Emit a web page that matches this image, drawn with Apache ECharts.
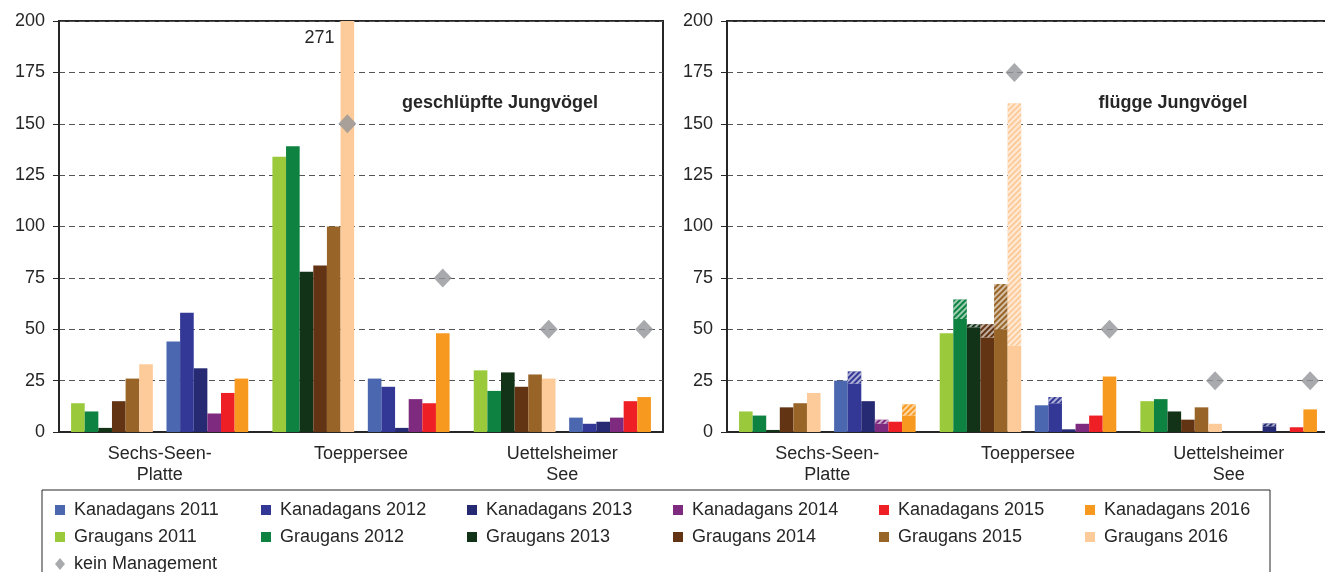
<!DOCTYPE html>
<html>
<head>
<meta charset="utf-8">
<script src="https://cdn.jsdelivr.net/npm/echarts@6/dist/echarts.min.js"></script>
<style>
html, body { margin: 0; padding: 0; background: #fff; }
#chart { width: 1325px; height: 572px; }
</style>
</head>
<body>
<div id="chart"></div>
<script>
var locations = ['Sechs-Seen-\nPlatte', 'Toeppersee', 'Uettelsheimer\nSee'];
var years = ['2011', '2012', '2013', '2014', '2015', '2016'];

var grauColors = ['#9aca3c', '#0e8240', '#133319', '#633413', '#986428', '#fdcb9a'];
var kanaColors = ['#4a67b0', '#333896', '#262a73', '#7e2a7e', '#ee2026', '#f7991f'];

// geschlüpfte Jungvögel - one row per year, one value per location
var grauGeschluepft = [
	[14, 134, 30],
	[10, 139, 20],
	[2, 78, 29],
	[15, 81, 22],
	[26, 100, 28],
	[33, 271, 26]
];
var kanaGeschluepft = [
	[44, 26, 7],
	[58, 22, 4],
	[31, 2, 5],
	[9, 16, 7],
	[19, 14, 15],
	[26, 48, 17]
];
var keinMgmtGeschluepftGrau = ['-', 150, 50];
var keinMgmtGeschluepftKana = ['-', 75, 50];

// flügge Jungvögel - solid part and the hatched part on top of it
var grauFluegge = [
	[10, 48, 15],
	[8, 55, 16],
	[1, 51, 10],
	[12, 46, 6],
	[14, 50, 12],
	[19, 42, 4]
];
var grauFlueggeSchraffur = [
	[0, 0, 0],
	[0, 9.5, 0],
	[0, 1.5, 0],
	[0, 6.5, 0],
	[0, 22, 0],
	[0, 118, 0]
];
var kanaFluegge = [
	[25, 13, 0],
	[23.5, 14, 0],
	[15, 1.3, 2.8],
	[4, 4, 0],
	[5, 8, 2.3],
	[8, 27, 11]
];
var kanaFlueggeSchraffur = [
	[0, 0, 0],
	[6, 3, 0],
	[0, 0, 1.4],
	[2, 0, 0],
	[0, 0, 0],
	[5.5, 0, 0]
];
var keinMgmtFlueggeGrau = ['-', 175, 25];
var keinMgmtFlueggeKana = ['-', 50, 25];

var FONT = 'Liberation Sans, Arial, sans-serif';
var TXT = '#262626';
var catGap = 0.12;

var hatch = {
	symbol: 'rect',
	symbolSize: 1,
	dashArrayX: [1, 0],
	dashArrayY: [2, 2],
	rotation: -Math.PI / 4,
	color: 'rgba(255,255,255,0.6)'
};

function barData(values) {
	return values.map(function (v) {
		if (v > 200) {
			return {
				value: v,
				label: {
					show: true, position: [-6, 17], align: 'right', verticalAlign: 'middle',
					formatter: '{c}', fontSize: 18, fontFamily: FONT, color: TXT
				}
			};
		}
		return v;
	});
}

function panelSeries(idx, catWidth, grau, grauHatch, kana, kanaHatch, mgmtGrau, mgmtKana) {
	var list = [];
	var slot = catWidth * (1 - catGap) / 13;
	function addBars(prefix, key, colors, solid, hatched) {
		for (var i = 0; i < 6; i++) {
			var stack = 'p' + idx + key + i;
			list.push({
				name: prefix + ' ' + years[i], type: 'bar', stack: stack,
				xAxisIndex: idx, yAxisIndex: idx,
				barGap: '0%', barCategoryGap: (catGap * 100) + '%',
				itemStyle: { color: colors[i] },
				data: barData(solid[i])
			});
			if (hatched) {
				list.push({
					name: prefix + ' ' + years[i], type: 'bar', stack: stack,
					xAxisIndex: idx, yAxisIndex: idx,
					barGap: '0%', barCategoryGap: (catGap * 100) + '%',
					itemStyle: { color: colors[i], decal: hatch },
					data: hatched[i]
				});
			}
		}
	}
	addBars('Graugans', 'g', grauColors, grau, grauHatch);
	// empty slot between the two goose clusters
	list.push({
		type: 'bar', stack: 'p' + idx + 'gap', xAxisIndex: idx, yAxisIndex: idx,
		barGap: '0%', barCategoryGap: (catGap * 100) + '%',
		data: ['-', '-', '-']
	});
	addBars('Kanadagans', 'k', kanaColors, kana, kanaHatch);

	[[mgmtGrau, -slot], [mgmtKana, 6 * slot]].forEach(function (m) {
		list.push({
			name: 'kein Management', type: 'scatter', xAxisIndex: idx, yAxisIndex: idx,
			symbol: 'diamond', symbolSize: [18, 19], symbolOffset: [m[1], 0],
			itemStyle: { color: '#939598' }, z: 5,
			data: m[0]
		});
	});
	return list;
}

var grids = [
	{ left: 59, top: 21, width: 604, height: 411 },
	{ left: 727, top: 21, width: 602, height: 411 }
];

function xAxisFor(i) {
	return {
		type: 'category', gridIndex: i, data: locations,
		axisTick: { show: false },
		axisLine: { lineStyle: { color: TXT, width: 2 } },
		axisLabel: { interval: 0, fontSize: 18, lineHeight: 21, margin: 12, color: TXT, fontFamily: FONT }
	};
}
function yAxisFor(i) {
	return {
		type: 'value', gridIndex: i, min: 0, max: 200, interval: 25,
		axisLine: { show: true, lineStyle: { color: TXT, width: 2 } },
		axisTick: { show: true, length: 6, lineStyle: { color: TXT } },
		axisLabel: { fontSize: 18, margin: 14, color: TXT, fontFamily: FONT },
		splitLine: { lineStyle: { type: [6, 4], color: '#555', width: 1 } }
	};
}

var legendText = { fontSize: 18, lineHeight: 18, color: TXT, fontFamily: FONT, padding: [0, 0, 0, 4] };
var legends = years.map(function (y, c) {
	return {
		orient: 'vertical', left: 50 + c * 206, top: 496,
		itemWidth: 10, itemHeight: 10, itemGap: 9,
		textStyle: legendText,
		data: [
			{ name: 'Kanadagans ' + y, icon: 'rect' },
			{ name: 'Graugans ' + y, icon: 'rect' }
		]
	};
});
legends.push({
	orient: 'vertical', left: 50, top: 550,
	itemWidth: 10, itemHeight: 12, itemGap: 9,
	textStyle: legendText,
	data: [{ name: 'kein Management', icon: 'diamond' }]
});

var chart = echarts.init(document.getElementById('chart'));
chart.setOption({
	animation: false,
	grid: grids.map(function (g) {
		return Object.assign({ show: true, borderColor: TXT, borderWidth: 2, outerBoundsMode: 'none', containLabel: false }, g);
	}),
	xAxis: [xAxisFor(0), xAxisFor(1)],
	yAxis: [yAxisFor(0), yAxisFor(1)],
	legend: legends,
	graphic: [
		{ type: 'text', x: 500, y: 103, style: { text: 'geschlüpfte Jungvögel', fontSize: 18, fontWeight: 'bold', fontFamily: FONT, fill: TXT, align: 'center', verticalAlign: 'middle' } },
		{ type: 'text', x: 1173, y: 103, style: { text: 'flügge Jungvögel', fontSize: 18, fontWeight: 'bold', fontFamily: FONT, fill: TXT, align: 'center', verticalAlign: 'middle' } },
		{ type: 'rect', shape: { x: 42, y: 490, width: 1228, height: 100 }, style: { fill: 'none', stroke: TXT, lineWidth: 1 }, z: -1 }
	],
	series: [].concat(
		panelSeries(0, 604 / 3, grauGeschluepft, null, kanaGeschluepft, null, keinMgmtGeschluepftGrau, keinMgmtGeschluepftKana),
		panelSeries(1, 602 / 3, grauFluegge, grauFlueggeSchraffur, kanaFluegge, kanaFlueggeSchraffur, keinMgmtFlueggeGrau, keinMgmtFlueggeKana)
	)
});
</script>
</body>
</html>
